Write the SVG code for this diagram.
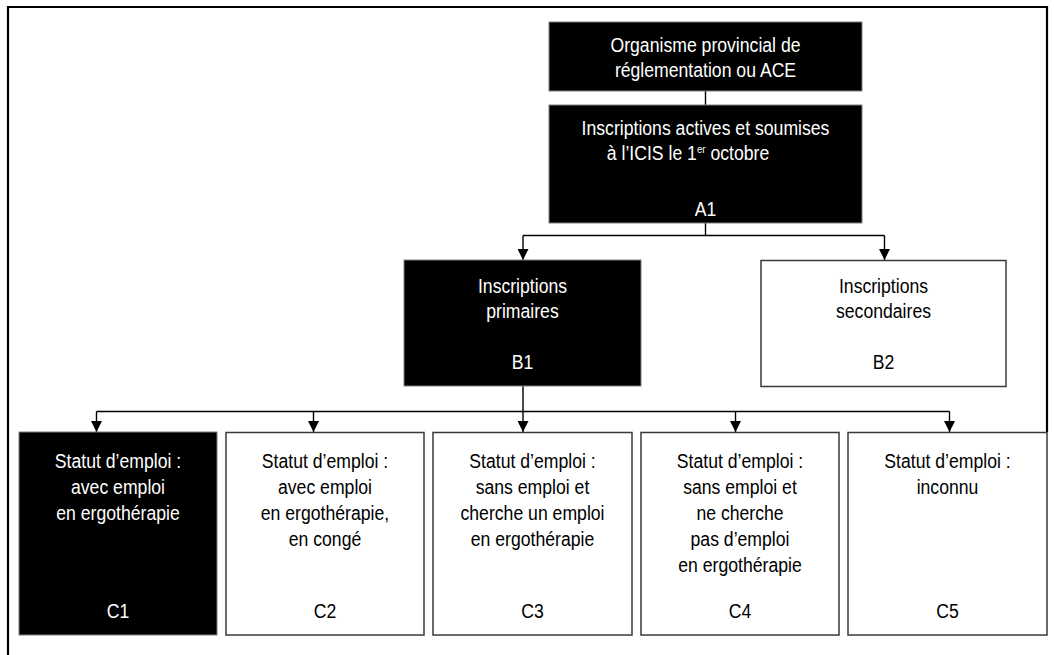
<svg xmlns="http://www.w3.org/2000/svg" width="1054" height="655" viewBox="0 0 1054 655">
<defs>
<style>
.dark{fill:#000;stroke:#7f7f7f;stroke-width:1}
.light{fill:#fff;stroke:#3a3a3a;stroke-width:1.5}
.t{font-family:"Liberation Sans",Arial,sans-serif;font-size:21px;text-anchor:middle}
.w{fill:#fff}
.k{fill:#000}
.c{fill:none;stroke:#000;stroke-width:1.4}
</style>
<marker id="ah" viewBox="0 0 11 11" refX="11" refY="5.5" markerWidth="11" markerHeight="11" markerUnits="userSpaceOnUse" orient="auto">
<path d="M0,0 L11,5.5 L0,11 z" fill="#000"/>
</marker>
</defs>
<rect width="1054" height="655" fill="#fff"/>
<path d="M8,655 V7 H1047 V432" fill="none" stroke="#000" stroke-width="2.2"/>

<g id="connectors">
<line class="c" x1="705.5" y1="91" x2="705.5" y2="105"/>
<path class="c" d="M705.5,223 V235.5"/>
<path class="c" d="M523,235.5 H884.5"/>
<line class="c" x1="523" y1="235.5" x2="523" y2="260" marker-end="url(#ah)"/>
<line class="c" x1="884.5" y1="235.5" x2="884.5" y2="260" marker-end="url(#ah)"/>
<path class="c" d="M523,386 V411.5"/>
<path class="c" d="M96.5,411.5 H949.5"/>
<line class="c" x1="96.5" y1="411.5" x2="96.5" y2="432" marker-end="url(#ah)"/>
<line class="c" x1="313.5" y1="411.5" x2="313.5" y2="432" marker-end="url(#ah)"/>
<line class="c" x1="523" y1="411.5" x2="523" y2="432" marker-end="url(#ah)"/>
<line class="c" x1="735.5" y1="411.5" x2="735.5" y2="432" marker-end="url(#ah)"/>
<line class="c" x1="949.5" y1="411.5" x2="949.5" y2="432" marker-end="url(#ah)"/>
</g>

<g id="org">
<rect class="dark" x="549" y="22" width="313" height="69"/>
<text class="t w" transform="translate(705.5,52) scale(0.84,1)">Organisme provincial de</text>
<text class="t w" transform="translate(705.5,77) scale(0.84,1)">réglementation ou ACE</text>
</g>

<g id="A1">
<rect class="dark" x="549" y="105" width="313" height="118"/>
<text class="t w" transform="translate(705.5,135) scale(0.84,1)">Inscriptions actives et soumises</text>
<text class="t w" transform="translate(688,160) scale(0.84,1)">à l’ICIS le 1<tspan font-size="11.5" dy="-7">er</tspan><tspan dy="7"> octobre</tspan></text>
<text class="t w" transform="translate(705.5,216) scale(0.84,1)">A1</text>
</g>

<g id="B1">
<rect class="dark" x="404" y="260" width="237" height="126"/>
<text class="t w" transform="translate(522.5,293) scale(0.84,1)">Inscriptions</text>
<text class="t w" transform="translate(522.5,318) scale(0.84,1)">primaires</text>
<text class="t w" transform="translate(522.5,369) scale(0.84,1)">B1</text>
</g>

<g id="B2">
<rect class="light" x="761" y="260.5" width="245" height="126"/>
<text class="t k" transform="translate(883.5,293) scale(0.84,1)">Inscriptions</text>
<text class="t k" transform="translate(883.5,318) scale(0.84,1)">secondaires</text>
<text class="t k" transform="translate(883.5,369) scale(0.84,1)">B2</text>
</g>

<g id="C1">
<rect class="dark" x="19" y="432" width="198" height="203"/>
<text class="t w" transform="translate(118,468) scale(0.84,1)">Statut d’emploi :</text>
<text class="t w" transform="translate(118,494) scale(0.84,1)">avec emploi</text>
<text class="t w" transform="translate(118,520) scale(0.84,1)">en ergothérapie</text>
<text class="t w" transform="translate(118,618) scale(0.84,1)">C1</text>
</g>

<g id="C2">
<rect class="light" x="226" y="432.5" width="198" height="202.5"/>
<text class="t k" transform="translate(325,468) scale(0.84,1)">Statut d’emploi :</text>
<text class="t k" transform="translate(325,494) scale(0.84,1)">avec emploi</text>
<text class="t k" transform="translate(325,520) scale(0.84,1)">en ergothérapie,</text>
<text class="t k" transform="translate(325,546) scale(0.84,1)">en congé</text>
<text class="t k" transform="translate(325,618) scale(0.84,1)">C2</text>
</g>

<g id="C3">
<rect class="light" x="433" y="432.5" width="199" height="202.5"/>
<text class="t k" transform="translate(532.5,468) scale(0.84,1)">Statut d’emploi :</text>
<text class="t k" transform="translate(532.5,494) scale(0.84,1)">sans emploi et</text>
<text class="t k" transform="translate(532.5,520) scale(0.84,1)">cherche un emploi</text>
<text class="t k" transform="translate(532.5,546) scale(0.84,1)">en ergothérapie</text>
<text class="t k" transform="translate(532.5,618) scale(0.84,1)">C3</text>
</g>

<g id="C4">
<rect class="light" x="641" y="432.5" width="198" height="202.5"/>
<text class="t k" transform="translate(740,468) scale(0.84,1)">Statut d’emploi :</text>
<text class="t k" transform="translate(740,494) scale(0.84,1)">sans emploi et</text>
<text class="t k" transform="translate(740,520) scale(0.84,1)">ne cherche</text>
<text class="t k" transform="translate(740,546) scale(0.84,1)">pas d’emploi</text>
<text class="t k" transform="translate(740,572) scale(0.84,1)">en ergothérapie</text>
<text class="t k" transform="translate(740,618) scale(0.84,1)">C4</text>
</g>

<g id="C5">
<rect class="light" x="848" y="432.5" width="199" height="202.5"/>
<text class="t k" transform="translate(947.5,468) scale(0.84,1)">Statut d’emploi :</text>
<text class="t k" transform="translate(947.5,494) scale(0.84,1)">inconnu</text>
<text class="t k" transform="translate(947.5,618) scale(0.84,1)">C5</text>
</g>
</svg>
